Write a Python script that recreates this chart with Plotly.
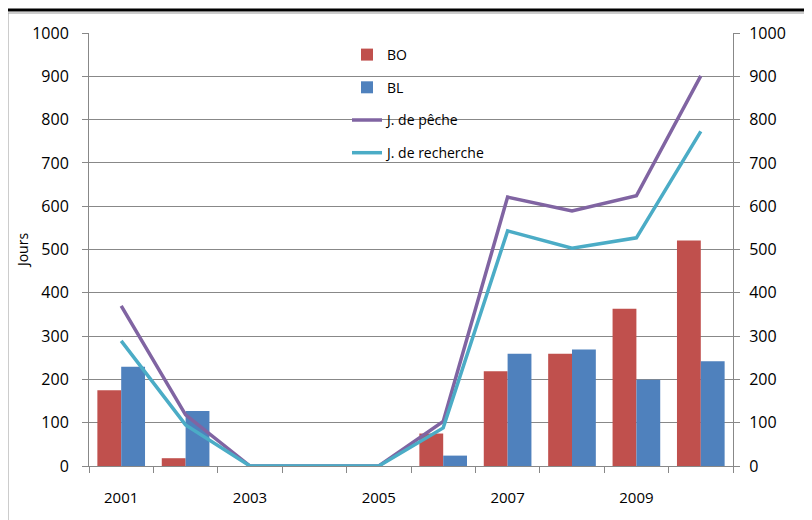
import plotly.graph_objects as go

years = ["2001", "2002", "2003", "2004", "2005", "2006", "2007", "2008", "2009", "2010"]
tick_text = ["2001", "", "2003", "", "2005", "", "2007", "", "2009", ""]
bo = [175, 18, 0, 0, 0, 75, 219, 259, 363, 521]
bl = [229, 127, 0, 0, 0, 24, 259, 269, 199, 242]
j_peche = [370, 118, 0, 0, 0, 103, 621, 589, 624, 901]
j_recherche = [289, 95, 0, 0, 0, 88, 543, 503, 527, 773]

# page offset (browser body margin)
OFF = 8
W, H = 812, 520
L, R, T, B = 89 - OFF, 733 - OFF, 33 - OFF, 466 - OFF
pw, ph = R - L, B - T

def px(x):
    return (x - OFF - L) / pw

def py(y):
    return (B - (y - OFF)) / ph

FONT = "Open Sans, Lato, sans-serif"
GRID = "#888888"

fig = go.Figure()
fig.add_trace(go.Bar(x=years, y=bo, name="BO", marker=dict(color="#C0504D", line=dict(width=0)),
                     legendgroup="a"))
fig.add_trace(go.Bar(x=years, y=bl, name="BL", marker=dict(color="#4F81BD", line=dict(width=0)),
                     legendgroup="b"))
fig.add_trace(go.Scatter(x=years, y=j_peche, name="J. de pêche", mode="lines", yaxis="y2",
                         line=dict(color="#8064A2", width=3.5), legendgroup="c"))
fig.add_trace(go.Scatter(x=years, y=j_recherche, name="J. de recherche", mode="lines", yaxis="y2",
                         line=dict(color="#4BACC6", width=3.5), legendgroup="d"))

fig.update_layout(
    width=W, height=H,
    margin=dict(l=L, r=W - R, t=T, b=H - B, pad=0, autoexpand=False),
    paper_bgcolor="white", plot_bgcolor="white",
    font=dict(family=FONT, size=15, color="#000000"),
    barmode="group", bargap=0.26, bargroupgap=0,
    showlegend=True,
    legend=dict(x=px(347), y=py(39), xanchor="left", yanchor="top",
                bgcolor="rgba(0,0,0,0)", borderwidth=0,
                font=dict(family=FONT, size=14), tracegroupgap=11.5,
                traceorder="grouped"),
    xaxis=dict(type="category", categoryorder="array", categoryarray=years,
               tickmode="array", tickvals=years, ticktext=tick_text,
               tickson="boundaries", ticks="outside", ticklen=6, tickcolor=GRID,
               showline=True, linecolor=GRID, linewidth=1, showgrid=False,
               ticklabelstandoff=18, range=[-0.5, 9.5]),
    yaxis=dict(range=[0, 1000], dtick=100, showgrid=True, gridcolor=GRID, gridwidth=1,
               showline=True, linecolor=GRID, ticks="outside", ticklen=6, tickcolor=GRID,
               zeroline=False, ticklabelstandoff=10, tickfont=dict(size=16),
               title=dict(text="Jours", font=dict(size=14), standoff=0)),
    yaxis2=dict(range=[0, 1000], dtick=100, overlaying="y", side="right", showgrid=False,
                showline=True, linecolor=GRID, ticks="outside", ticklen=6, tickcolor=GRID,
                zeroline=False, ticklabelstandoff=6, tickfont=dict(size=16)),
)

fig.add_annotation(text="Nombre de salées", xref="paper", yref="paper",
                   x=px(810), y=py(228), textangle=-90, showarrow=False,
                   font=dict(family=FONT, size=13), xanchor="center", yanchor="middle")

# chart area border and top rule
fig.add_shape(type="rect", xref="paper", yref="paper",
              x0=px(8), x1=px(840), y0=py(560), y1=py(13),
              line=dict(color="#999999", width=1), fillcolor="rgba(0,0,0,0)", layer="below")
fig.add_shape(type="line", xref="paper", yref="paper",
              x0=px(-20), x1=px(840), y0=py(10), y1=py(10),
              line=dict(color="#000000", width=3))

fig.write_html("out.html")
